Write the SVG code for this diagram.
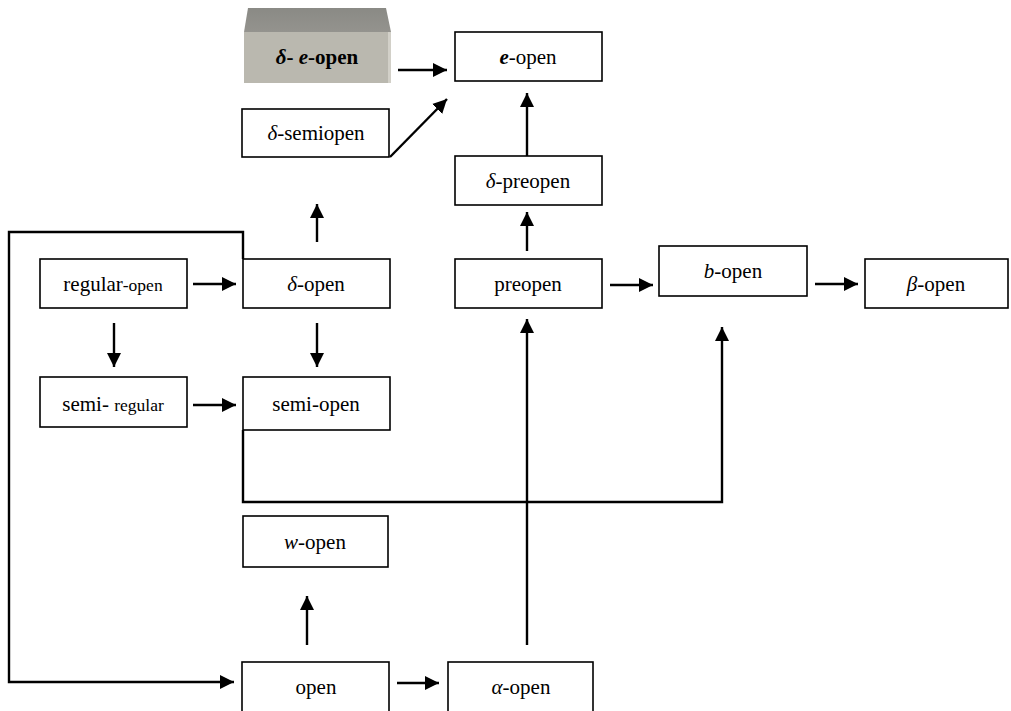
<svg xmlns="http://www.w3.org/2000/svg" width="1011" height="711" viewBox="0 0 1011 711">
<defs>
<marker id="ah" markerUnits="userSpaceOnUse" markerWidth="16" markerHeight="16" refX="14" refY="8" orient="auto">
<path d="M0,1 L14,8 L0,15 Z" fill="#000"/>
</marker>
<linearGradient id="topg" x1="0" y1="0" x2="0" y2="1">
<stop offset="0" stop-color="#8a8a85"/>
<stop offset="1" stop-color="#94938e"/>
</linearGradient>
</defs>
<style>
.box{fill:#fff;stroke:#000;stroke-width:1.6}
text{font-family:"Liberation Serif","Times New Roman",Times,serif;font-size:21px;fill:#000;text-anchor:middle}
.s{font-size:17.5px}
.i{font-style:italic}
.b{font-weight:bold}
.c{fill:none;stroke:#000;stroke-width:2.4}
.a{marker-end:url(#ah)}
</style>
<rect width="1011" height="711" fill="#fff"/>
<g id="connectors">
<path class="c a" d="M398,70 H447"/>
<path class="c a" d="M390,157 L447,99"/>
<path class="c a" d="M527,156 V93"/>
<path class="c a" d="M527,251 V212"/>
<path class="c a" d="M317,242 V204"/>
<path class="c a" d="M193,284 H236"/>
<path class="c a" d="M114,323 V367"/>
<path class="c a" d="M317,323 V367"/>
<path class="c a" d="M193,405 H236"/>
<path class="c a" d="M610,285 H653"/>
<path class="c a" d="M815,284 H858"/>
<path class="c a" d="M243,430 V502 H722 V327"/>
<path class="c a" d="M527,645 V319"/>
<path class="c a" d="M307,645 V596"/>
<path class="c a" d="M397,683 H439"/>
<path class="c a" d="M243,259 V232 H9 V682 H234"/>
</g>
<g id="n-delta-e-open">
<polygon points="248,8 386,8 391,32 244,32" fill="url(#topg)"/>
<rect x="244" y="32" width="146" height="51" fill="#bab8af"/>
<rect x="388" y="32" width="3" height="51" fill="#d2d0c8"/>
<text class="b" x="317" y="64"><tspan class="i">δ</tspan>- <tspan class="i">e</tspan>-open</text>
</g>
<g id="n-e-open">
<rect class="box" x="455" y="32" width="147" height="49"/>
<text x="528" y="64"><tspan class="i b">e</tspan>-open</text>
</g>
<g id="n-delta-semiopen">
<rect class="box" x="242" y="109" width="147" height="48"/>
<text x="316" y="140"><tspan class="i">δ</tspan>-semiopen</text>
</g>
<g id="n-delta-preopen">
<rect class="box" x="455" y="156" width="147" height="49"/>
<text x="528" y="188"><tspan class="i">δ</tspan>-preopen</text>
</g>
<g id="n-regular-open">
<rect class="box" x="40" y="259" width="147" height="49"/>
<text x="113" y="291">regular<tspan class="s">-open</tspan></text>
</g>
<g id="n-delta-open">
<rect class="box" x="243" y="259" width="147" height="49"/>
<text x="316" y="291"><tspan class="i">δ</tspan>-open</text>
</g>
<g id="n-preopen">
<rect class="box" x="455" y="259" width="147" height="49"/>
<text x="528" y="291">preopen</text>
</g>
<g id="n-b-open">
<rect class="box" x="659" y="246" width="148" height="50"/>
<text x="733" y="278"><tspan class="i">b</tspan>-open</text>
</g>
<g id="n-beta-open">
<rect class="box" x="865" y="259" width="143" height="49"/>
<text x="936" y="291"><tspan class="i">β</tspan>-open</text>
</g>
<g id="n-semi-regular">
<rect class="box" x="40" y="377" width="147" height="50"/>
<text x="113" y="411">semi- <tspan class="s">regular</tspan></text>
</g>
<g id="n-semi-open">
<rect class="box" x="243" y="377" width="147" height="53"/>
<text x="316" y="411">semi-open</text>
</g>
<g id="n-w-open">
<rect class="box" x="243" y="516" width="145" height="51"/>
<text x="315" y="549"><tspan class="i">w</tspan>-open</text>
</g>
<g id="n-open">
<rect class="box" x="242" y="662" width="147" height="60"/>
<text x="316" y="694">open</text>
</g>
<g id="n-alpha-open">
<rect class="box" x="448" y="662" width="145" height="60"/>
<text x="521" y="694"><tspan class="i">α</tspan>-open</text>
</g>
</svg>
